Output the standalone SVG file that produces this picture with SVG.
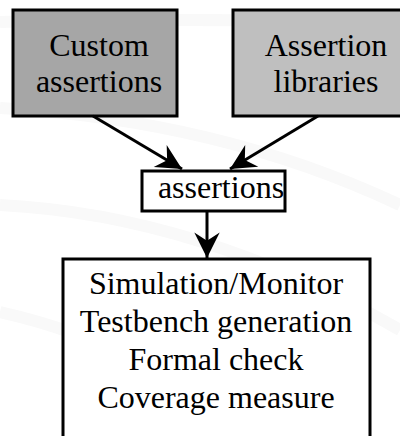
<svg xmlns="http://www.w3.org/2000/svg" width="400" height="436" viewBox="0 0 400 436">
<style>
.box{stroke:#000;stroke-width:3}
.t{font-family:"Liberation Serif","Times New Roman",serif;font-size:32px;fill:#000;text-anchor:middle}
.c{stroke:#000;stroke-width:3;fill:none}
.bg{fill:none;stroke:#f9f9f9;stroke-width:12}
</style>
<defs>
<marker id="ah" markerUnits="userSpaceOnUse" markerWidth="30" markerHeight="30" viewBox="-24 -12 26 24" refX="0" refY="0" orient="auto">
<path d="M0,0 L-22,-11 L-15,0 L-22,11 Z" fill="#000"/>
</marker>
</defs>
<rect width="400" height="436" fill="#fff"/>
<g id="background">
<path class="bg" d="M0,22 Q150,18 400,22"/>
<path class="bg" d="M0,108 Q220,120 400,205"/>
<path class="bg" d="M0,205 Q200,215 400,330"/>
<path class="bg" d="M0,312 Q80,330 130,360"/>
</g>
<g id="custom">
<rect class="box" x="13" y="10" width="164" height="106" fill="#a6a6a6"/>
<text class="t" x="99" y="56">Custom</text>
<text class="t" x="99" y="92">assertions</text>
</g>
<g id="libraries">
<rect class="box" x="233" y="10" width="170" height="106" fill="#bfbfbf"/>
<text class="t" x="326" y="56">Assertion</text>
<text class="t" x="326" y="92">libraries</text>
</g>
<g id="assertions">
<rect class="box" x="142" y="171" width="143" height="40" fill="#fff"/>
<text class="t" x="221" y="198">assertions</text>
</g>
<g id="tools">
<rect class="box" x="63" y="259" width="307" height="190" fill="#fff"/>
<text class="t" x="216" y="294">Simulation/Monitor</text>
<text class="t" x="216" y="332">Testbench generation</text>
<text class="t" x="216" y="370">Formal check</text>
<text class="t" x="216" y="408">Coverage measure</text>
</g>
<g id="connectors">
<path class="c" d="M93,116 L182,169" marker-end="url(#ah)"/>
<path class="c" d="M318,116 L230,169" marker-end="url(#ah)"/>
<path class="c" d="M207,211 L207,258" marker-end="url(#ah)"/>
</g>
</svg>
